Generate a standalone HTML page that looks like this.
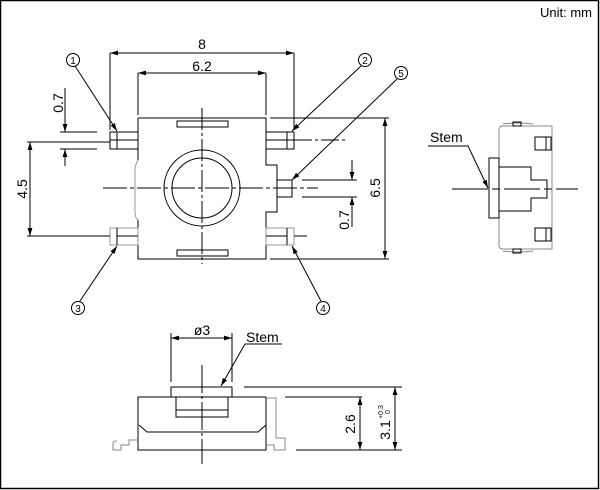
<!DOCTYPE html>
<html><head><style>
html,body{margin:0;padding:0;background:#fff}
svg{display:block}
text{font-family:"Liberation Sans",sans-serif;fill:#000}
</style></head><body>
<svg width="600" height="490" viewBox="0 0 600 490" xmlns="http://www.w3.org/2000/svg">
<defs>
<marker id="a" viewBox="0 0 10 6" refX="10" refY="3" markerWidth="8" markerHeight="5" orient="auto-start-reverse" markerUnits="userSpaceOnUse"><path d="M0,0L10,3L0,6z" fill="#000"/></marker>
</defs>
<rect x="0.5" y="0.5" width="598" height="488" fill="none" stroke="#000" stroke-width="1.5"/>
<text x="592" y="17" font-size="13" text-anchor="end">Unit: mm</text>

<g stroke="#000" stroke-width="1" fill="none">
<!-- top view body -->
<path d="M138,118H266V165H277V212H266V259H138V220"/>
<path d="M138,118V160"/>
<path d="M138,160 Q135,165 135,170 V212 Q135,218 138,220" stroke="#999"/>
<rect x="177" y="121" width="51" height="6"/>
<rect x="177" y="250" width="51" height="6"/>
<circle cx="202" cy="188" r="38"/>
<circle cx="202" cy="188" r="30"/>
<path d="M202,108V264" stroke-dasharray="22,3,3,3"/>
<path d="M103,188H318" stroke-dasharray="24,3,4,3"/>
<!-- pins -->
<rect x="110" y="132" width="28" height="17"/><path d="M117,132V149"/>
<rect x="266" y="132" width="28" height="17"/><path d="M287,132V149"/>
<rect x="110" y="228" width="28" height="17" stroke="#999"/><path d="M117,228V245M117,236H138"/>
<rect x="266" y="228" width="28" height="17" stroke="#999"/><path d="M287,228V245M266,236H287"/>
<rect x="277" y="180" width="15" height="17"/>
<path d="M110,140H138M266,140H294"/>
<path d="M294,140H347" stroke-dasharray="18,3,3,3"/>
<path d="M294,236H307"/>
<!-- 8 dim -->
<path d="M110,53V130M294,53V130"/>
<path d="M110,53H294" marker-start="url(#a)" marker-end="url(#a)"/>
<!-- 6.2 dim -->
<path d="M138,73V115M266,73V115"/>
<path d="M138,73H266" marker-start="url(#a)" marker-end="url(#a)"/>
<!-- 0.7 left -->
<path d="M60,132H97M60,149H97"/>
<path d="M65,88V132" marker-end="url(#a)"/>
<path d="M65,166V149" marker-end="url(#a)"/>
<!-- 4.5 -->
<path d="M27,142H110M27,236H110"/>
<path d="M30,142V236" marker-start="url(#a)" marker-end="url(#a)"/>
<!-- 6.5 -->
<path d="M270,118H389M270,259H389"/>
<path d="M385,118V259" marker-start="url(#a)" marker-end="url(#a)"/>
<!-- 0.7 right -->
<path d="M302,180H357M302,197H357"/>
<path d="M352,160V180" marker-end="url(#a)"/>
<path d="M352,227V197" marker-end="url(#a)"/>
<!-- leaders -->
<path d="M75,66L117,131" marker-end="url(#a)"/>
<path d="M361,66L292,131" marker-end="url(#a)"/>
<path d="M397,79L292,180" marker-end="url(#a)"/>
<path d="M80,301L117,246" marker-end="url(#a)"/>
<path d="M321,301L292,246" marker-end="url(#a)"/>
<circle cx="73" cy="60" r="6.5"/>
<circle cx="365" cy="60" r="6.5"/>
<circle cx="401" cy="73" r="6.5"/>
<circle cx="78" cy="308" r="6.5"/>
<circle cx="323" cy="308" r="6.5"/>

<!-- side view -->
<path d="M552,126H503Q499,126 499,130V245Q499,249 503,249H552V126" stroke="#888"/>
<path d="M503,124Q520,122 533,124M503,251Q520,253 533,251" stroke="#888"/>
<rect x="513" y="122" width="8" height="4"/><rect x="513" y="249" width="8" height="4"/>
<rect x="489" y="158" width="10" height="60"/>
<path d="M499,167H531V180H547V198H531V211H499"/>
<path d="M547,180V198"/>
<rect x="535" y="137" width="16" height="13"/><path d="M546,137V150"/>
<rect x="535" y="228" width="16" height="13"/><path d="M546,228V241"/>
<path d="M452,189H578" stroke-dasharray="36,4,8,4"/>
<path d="M428,146H468L488,188" marker-end="url(#a)"/>

<!-- bottom view -->
<rect x="138" y="397" width="128" height="53"/>
<rect x="171" y="387" width="61" height="10"/>
<path d="M176,397V417H228V397M176,410H228"/>
<path d="M139,425L147,432H258L266,425"/>
<path d="M202,365V464" stroke-dasharray="28,3,3,3"/>
<path d="M266,398H276V438H285V450H274V445H266" stroke="#888"/>
<path d="M138,440H129V445H121V450H113V444Q113,441 117,441" stroke="#888"/>
<path d="M171,333V382M232,333V382"/>
<path d="M171,338H232" marker-start="url(#a)" marker-end="url(#a)"/>
<path d="M282,344H245L221,386" marker-end="url(#a)"/>
<path d="M244,387H402M296,450H402M285,397H362"/>
<path d="M395,387V450" marker-start="url(#a)" marker-end="url(#a)"/>
<path d="M360,397V450" marker-start="url(#a)" marker-end="url(#a)"/>
</g>

<g font-size="14">
<text x="202" y="49" text-anchor="middle">8</text>
<text x="202" y="71" text-anchor="middle">6.2</text>
<text transform="translate(63,103) rotate(-90)" text-anchor="middle">0.7</text>
<text transform="translate(27,189) rotate(-90)" text-anchor="middle">4.5</text>
<text transform="translate(380,188) rotate(-90)" text-anchor="middle">6.5</text>
<text transform="translate(349,220) rotate(-90)" text-anchor="middle">0.7</text>
<text x="430" y="142">Stem</text>
<text x="202" y="335" text-anchor="middle">ø3</text>
<text x="246" y="342">Stem</text>
<text transform="translate(355,424) rotate(-90)" text-anchor="middle">2.6</text>
<text transform="translate(390,430) rotate(-90)" text-anchor="middle">3.1</text>
</g>
<g font-size="7">
<text transform="translate(383,412) rotate(-90)" text-anchor="middle">+0.3</text>
<text transform="translate(390,412) rotate(-90)" text-anchor="middle">0</text>
</g>
<g font-size="10" text-anchor="middle">
<text x="73" y="64">1</text>
<text x="365" y="64">2</text>
<text x="401" y="77">5</text>
<text x="78" y="312">3</text>
<text x="323" y="312">4</text>
</g>
</svg>
</body></html>
